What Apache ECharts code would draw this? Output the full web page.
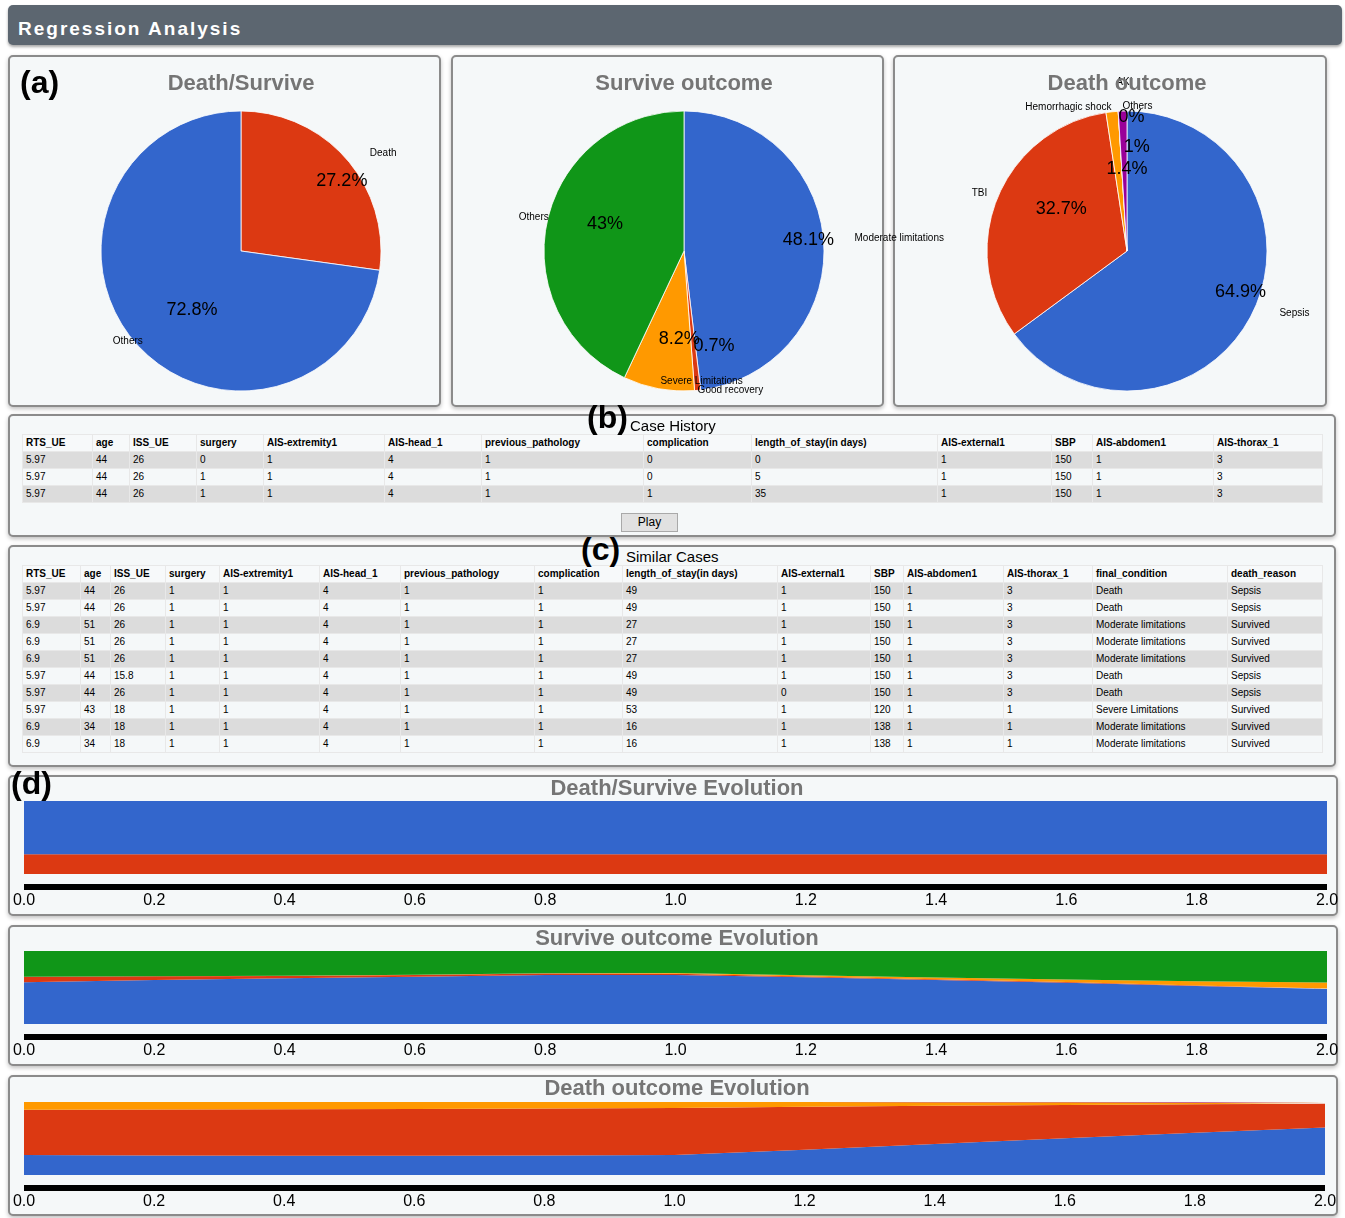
<!DOCTYPE html>
<html>
<head>
<meta charset="utf-8">
<script src="https://cdn.jsdelivr.net/npm/echarts@6/dist/echarts.min.js"></script>
<style>
  body { margin:0; background:#fff; font-family:"Liberation Sans", Arial, sans-serif; width:1345px; height:1218px; position:relative; overflow:hidden; }
  .hdr { position:absolute; left:8px; top:5px; width:1334px; height:40px; background:#5c6670; border-radius:5px; box-shadow:0 2px 3px rgba(0,0,0,.35); }
  .hdr span { position:absolute; left:10px; top:14px; color:#fff; font-weight:bold; font-size:19px; line-height:19px; letter-spacing:2px; }
  .panel { position:absolute; box-sizing:border-box; border:2px solid #8b8b8b; border-radius:5px; background:#f5f8f9; box-shadow:0 2px 4px rgba(0,0,0,.25); }
  .chart { position:absolute; }
  .tag { position:absolute; font-weight:bold; font-size:32px; line-height:32px; color:#000; }
  .cap { position:absolute; font-size:15px; line-height:15px; color:#000; }
  table { position:absolute; left:22px; width:1300px; border-collapse:collapse; table-layout:fixed; font-size:10px; color:#000; }
  th, td { height:16px; line-height:16px; padding:0 0 0 3px; border:1px solid #e8e8e8; text-align:left; white-space:nowrap; overflow:hidden; }
  th { background:#f7f9fa; font-weight:bold; }
  tr.odd td { background:#dcdcdc; }
  tr.even td { background:#f5f8f9; }
  .btn { position:absolute; left:621px; top:513px; width:57px; height:19px; box-sizing:border-box; border:1px solid #a9a9a9; background:#e1e1e1; font-size:12px; line-height:17px; text-align:center; }
</style>
</head>
<body>
<div class="hdr"><span>Regression Analysis</span></div>

<div class="panel" style="left:8px;top:55px;width:433px;height:352px"></div>
<div class="panel" style="left:451px;top:55px;width:433px;height:352px"></div>
<div class="panel" style="left:893px;top:55px;width:434px;height:352px"></div>
<div class="panel" style="left:8px;top:414px;width:1328px;height:123px"></div>
<div class="panel" style="left:8px;top:545px;width:1328px;height:222px"></div>
<div class="panel" style="left:8px;top:775px;width:1330px;height:141px"></div>
<div class="panel" style="left:8px;top:925px;width:1330px;height:141px"></div>
<div class="panel" style="left:8px;top:1075px;width:1330px;height:141px"></div>

<div id="pie1" class="chart" style="left:-59px;top:57px;width:600px;height:348px"></div>
<div id="pie2" class="chart" style="left:384px;top:57px;width:600px;height:348px"></div>
<div id="pie3" class="chart" style="left:827px;top:57px;width:600px;height:348px"></div>

<table id="caseTable" style="top:434px"></table>
<div class="btn">Play</div>
<table id="simTable" style="top:565px"></table>

<div id="evo1" class="chart" style="left:4px;top:777px;width:1346px;height:137px"></div>
<div id="evo2" class="chart" style="left:4px;top:927px;width:1346px;height:137px"></div>
<div id="evo3" class="chart" style="left:4px;top:1077px;width:1346px;height:137px"></div>

<div class="tag" style="left:20px;top:66px">(a)</div>
<div class="tag" style="left:587px;top:401px">(b)</div>
<div class="cap" style="left:630px;top:418px">Case History</div>
<div class="tag" style="left:581px;top:533px">(c)</div>
<div class="cap" style="left:626px;top:549px">Similar Cases</div>
<div class="tag" style="left:11px;top:767px">(d)</div>

<script>
// ---- data ----
var deathSurviveNames = ['Death', 'Others'];
var deathSurviveValues = [27.2, 72.8];

var surviveNames = ['Moderate limitations', 'Good recovery', 'Severe Limitations', 'Others'];
var surviveValues = [48.1, 0.7, 8.2, 43.0];

var deathNames = ['Sepsis', 'TBI', 'Hemorrhagic shock', 'AKI', 'Others'];
var deathValues = [64.9, 32.7, 1.4, 0, 1.0];

var caseColumns = ['RTS_UE', 'age', 'ISS_UE', 'surgery', 'AIS-extremity1', 'AIS-head_1', 'previous_pathology',
  'complication', 'length_of_stay(in days)', 'AIS-external1', 'SBP', 'AIS-abdomen1', 'AIS-thorax_1'];
var caseRows = [
  ['5.97', '44', '26', '0', '1', '4', '1', '0', '0', '1', '150', '1', '3'],
  ['5.97', '44', '26', '1', '1', '4', '1', '0', '5', '1', '150', '1', '3'],
  ['5.97', '44', '26', '1', '1', '4', '1', '1', '35', '1', '150', '1', '3']
];

var simColumns = caseColumns.concat(['final_condition', 'death_reason']);
var simRows = [
  ['5.97', '44', '26', '1', '1', '4', '1', '1', '49', '1', '150', '1', '3', 'Death', 'Sepsis'],
  ['5.97', '44', '26', '1', '1', '4', '1', '1', '49', '1', '150', '1', '3', 'Death', 'Sepsis'],
  ['6.9', '51', '26', '1', '1', '4', '1', '1', '27', '1', '150', '1', '3', 'Moderate limitations', 'Survived'],
  ['6.9', '51', '26', '1', '1', '4', '1', '1', '27', '1', '150', '1', '3', 'Moderate limitations', 'Survived'],
  ['6.9', '51', '26', '1', '1', '4', '1', '1', '27', '1', '150', '1', '3', 'Moderate limitations', 'Survived'],
  ['5.97', '44', '15.8', '1', '1', '4', '1', '1', '49', '1', '150', '1', '3', 'Death', 'Sepsis'],
  ['5.97', '44', '26', '1', '1', '4', '1', '1', '49', '0', '150', '1', '3', 'Death', 'Sepsis'],
  ['5.97', '43', '18', '1', '1', '4', '1', '1', '53', '1', '120', '1', '1', 'Severe Limitations', 'Survived'],
  ['6.9', '34', '18', '1', '1', '4', '1', '1', '16', '1', '138', '1', '1', 'Moderate limitations', 'Survived'],
  ['6.9', '34', '18', '1', '1', '4', '1', '1', '16', '1', '138', '1', '1', 'Moderate limitations', 'Survived']
];

// evolution (stacked share, %)
var evoX = [0, 0.2, 0.4, 0.6, 0.8, 1.0, 1.2, 1.4, 1.6, 1.8, 2.0];
var evoDeath = [27.2, 27.2, 27.2, 27.2, 27.2, 27.2, 27.2, 27.2, 27.2, 27.2, 27.2];
var evoSurvived = [72.8, 72.8, 72.8, 72.8, 72.8, 72.8, 72.8, 72.8, 72.8, 72.8, 72.8];

var evoModerate = [57.1, 60.3, 62.6, 64.8, 67.1, 67.1, 63.9, 60.3, 56.6, 52.0, 48.1];
var evoGood = [7.7, 5.0, 3.3, 2.4, 2.0, 1.6, 1.3, 1.1, 0.9, 0.8, 0.7];
var evoSevere = [0, 0, 0.2, 0.4, 0.5, 1.0, 1.5, 2.3, 3.6, 5.6, 8.2];
var evoSurviveOthers = [35.2, 34.7, 33.9, 32.4, 30.4, 30.3, 33.3, 36.3, 38.9, 41.6, 43.0];

var evoSepsis = [27.3, 26.6, 26.5, 26.4, 26.6, 27.5, 34.7, 42.5, 50.2, 58.0, 64.9];
var evoTBI = [62.2, 63.1, 63.5, 64.1, 64.4, 64.3, 58.9, 52.5, 45.8, 39.0, 32.7];
var evoShock = [10.5, 10.3, 10.0, 9.5, 9.0, 8.2, 6.4, 4.8, 3.5, 2.2, 1.4];
var evoAKI = [0, 0, 0, 0, 0, 0, 0, 0, 0, 0, 0];
var evoDeathOthers = [0, 0, 0, 0, 0, 0, 0, 0.2, 0.5, 0.8, 1.0];

// ---- styles ----
var BLUE = '#3366cc', RED = '#dc3912', ORANGE = '#ff9900', GREEN = '#109618', PURPLE = '#990099';
var FONT = 'Liberation Sans';
var CX = 300, CY = 194, R = 140;

function buildTable(id, cols, rows, widths) {
  var t = document.getElementById(id);
  var html = '<colgroup>' + widths.map(function(w) { return '<col style="width:' + w + 'px">'; }).join('') + '</colgroup>';
  html += '<tr>' + cols.map(function(c) { return '<th>' + c + '</th>'; }).join('') + '</tr>';
  rows.forEach(function(r, i) {
    html += '<tr class="' + (i % 2 ? 'even' : 'odd') + '">' + r.map(function(v) { return '<td>' + v + '</td>'; }).join('') + '</tr>';
  });
  t.innerHTML = html;
}
buildTable('caseTable', caseColumns, caseRows, [70, 37, 67, 67, 121, 97, 162, 108, 186, 114, 41, 121, 109]);
buildTable('simTable', simColumns, simRows, [58, 30, 55, 54, 100, 81, 134, 88, 155, 93, 33, 100, 89, 135, 95]);

function pieOption(title, names, values, colors, lab) {
  var total = values.reduce(function(a, b) { return a + b; }, 0);
  var mids = [], acc = 0;
  values.forEach(function(v) { mids.push((acc + v / 2) / total * 2 * Math.PI); acc += v; });
  function at(i, f) { return [CX + Math.sin(mids[i]) * R * f, CY - Math.cos(mids[i]) * R * f]; }
  return {
    animation: false,
    title: { text: title, left: 'center', top: 16, padding: 0,
      textStyle: { fontFamily: FONT, fontSize: 22, fontWeight: 'bold', color: '#757575' } },
    series: [{
      type: 'pie', center: [CX, CY], radius: R, startAngle: 90, clockwise: true,
      avoidLabelOverlap: false,
      data: names.map(function(n, i) { return { name: n, value: values[i], itemStyle: { color: colors[i] } }; }),
      itemStyle: { borderColor: '#ffffff', borderWidth: 0.8 },
      label: { show: true, position: 'inside', fontFamily: FONT, fontSize: 18, color: '#000',
        formatter: function(p) { return (Math.round(p.percent * 10) / 10) + '%'; } },
      labelLine: { show: false },
      labelLayout: function(p) {
        var i = p.dataIndex, xy = at(i, lab.pctR[i]);
        return { x: xy[0] + lab.pctDx[i], y: xy[1] + lab.pctDy[i], align: lab.pctAlign[i], verticalAlign: 'middle' };
      }
    }, {
      type: 'pie', center: [CX, CY], radius: R, startAngle: 90, clockwise: true, silent: true,
      avoidLabelOverlap: false,
      data: names.map(function(n, i) { return { name: n, value: values[i] }; }),
      itemStyle: { color: 'rgba(0,0,0,0)', borderWidth: 0 },
      label: { show: true, position: 'inside', fontFamily: FONT, fontSize: 10, color: '#000', formatter: '{b}' },
      labelLine: { show: false },
      labelLayout: function(p) {
        var i = p.dataIndex, xy = at(i, lab.nameR[i]);
        return { x: xy[0], y: xy[1] + lab.nameDy[i], align: lab.nameAlign[i], verticalAlign: 'middle' };
      }
    }]
  };
}

echarts.init(document.getElementById('pie1')).setOption(pieOption('Death/Survive',
  deathSurviveNames, deathSurviveValues, [RED, BLUE],
  { pctR: [0.87, 0.54], pctAlign: ['center', 'center'], pctDx: [9, 8], pctDy: [10, 9],
    nameR: [1.22, 0.93], nameAlign: ['left', 'right'], nameDy: [14, 5] }));

echarts.init(document.getElementById('pie2')).setOption(pieOption('Survive outcome',
  surviveNames, surviveValues, [BLUE, RED, ORANGE, GREEN],
  { pctR: [0.89, 0.70, 0.62, 0.60], pctAlign: ['center', 'left', 'center', 'center'],
    pctDx: [0, 0, 11, 3], pctDy: [-4, -3, 3, -9],
    nameR: [1.22, 1.0, 0.93, 0.99], nameAlign: ['left', 'left', 'left', 'right'], nameDy: [-3, 0, 2, -4] }));

echarts.init(document.getElementById('pie3')).setOption(pieOption('Death outcome',
  deathNames, deathValues, [BLUE, RED, ORANGE, GREEN, PURPLE],
  { pctR: [0.86, 0.57, 0.60, 0.96, 0.75], pctAlign: ['center', 'center', 'center', 'left', 'left'],
    pctDx: [6, 8, 9, 0, 0], pctDy: [-13, -11, 2, 0, 1],
    nameR: [1.22, 1.08, 1.04, 1.21, 1.04], nameAlign: ['left', 'right', 'right', 'left', 'left'], nameDy: [-15, 0, 1, 0, 1] }));

function evoOption(title, names, lists, colors, grid) {
  return {
    animation: false,
    title: { text: title, left: 'center', top: 1, padding: 0,
      textStyle: { fontFamily: FONT, fontSize: 22, fontWeight: 'bold', color: '#757575' } },
    grid: grid,
    xAxis: {
      type: 'category', boundaryGap: false, offset: 13,
      data: evoX.map(function(v) { return v.toFixed(1); }),
      axisLine: { onZero: false, lineStyle: { color: '#000', width: 6, cap: 'butt' } },
      axisTick: { show: false }, splitLine: { show: false },
      axisLabel: { interval: 0, margin: 6, fontFamily: FONT, fontSize: 16, color: '#000' }
    },
    yAxis: { type: 'value', min: 0, max: 100, show: false },
    series: names.map(function(n, i) {
      return {
        name: n, type: 'line', stack: 'share', showSymbol: false,
        data: lists[i],
        lineStyle: { width: 0, opacity: 0 },
        itemStyle: { color: colors[i] },
        areaStyle: { color: colors[i], opacity: 1 }
      };
    })
  };
}

echarts.init(document.getElementById('evo1')).setOption(evoOption('Death/Survive Evolution',
  ['Death', 'Others'], [evoDeath, evoSurvived], [RED, BLUE],
  { left: 20, right: 23, top: 24, bottom: 40 }));

echarts.init(document.getElementById('evo2')).setOption(evoOption('Survive outcome Evolution',
  surviveNames, [evoModerate, evoGood, evoSevere, evoSurviveOthers], [BLUE, RED, ORANGE, GREEN],
  { left: 20, right: 23, top: 24, bottom: 40 }));

echarts.init(document.getElementById('evo3')).setOption(evoOption('Death outcome Evolution',
  deathNames, [evoSepsis, evoTBI, evoShock, evoAKI, evoDeathOthers], [BLUE, RED, ORANGE, GREEN, PURPLE],
  { left: 20, right: 25, top: 25, bottom: 39 }));
</script>
</body>
</html>
